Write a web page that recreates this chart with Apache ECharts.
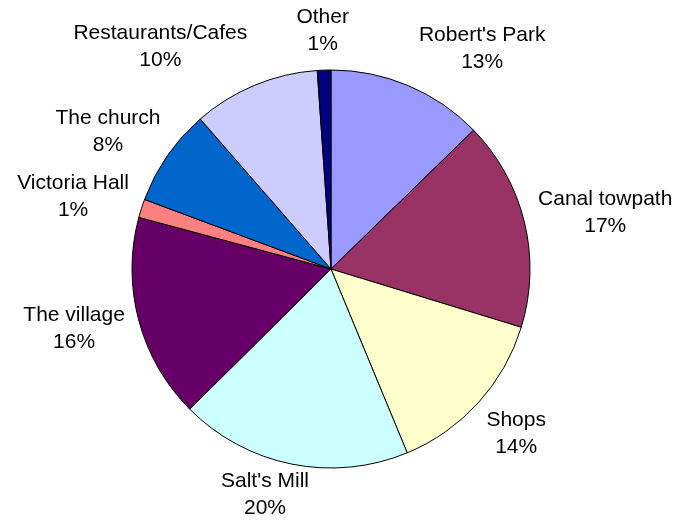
<!DOCTYPE html>
<html>
<head>
<meta charset="utf-8">
<script src="https://cdn.jsdelivr.net/npm/echarts@6/dist/echarts.min.js"></script>
<style>
html,body{margin:0;padding:0;background:#fff;}
#chart{width:674px;height:524px;}
</style>
</head>
<body>
<div id="chart"></div>
<script>
// Data
const categories = ["Robert's Park", "Canal towpath", "Shops", "Salt's Mill", "The village", "Victoria Hall", "The church", "Restaurants/Cafes", "Other"];
const shares = [12.7, 17.0, 14.0, 18.8, 16.6, 1.5, 7.9, 10.3, 1.1];
const percentLabels = ["13%", "17%", "14%", "20%", "16%", "1%", "8%", "10%", "1%"];

// Styling
const colors = ['#9999FF', '#993366', '#FFFFCC', '#CCFFFF', '#660066', '#FF8080', '#0066CC', '#CCCCFF', '#000080'];
const CX = 331, CY = 269, R = 199, LABEL_DIST = 215, LINE_H = 27;
// label nudges [dx, dy] mimicking the original's label overlap adjustments
const labelNudge = {
  "Robert's Park": [43, 3],
  "Canal towpath": [0, 1],
  "Shops": [4, 2],
  "Salt's Mill": [-15, -12],
  "The village": [0, -2],
  "Victoria Hall": [0, 1],
  "The church": [-3, 0],
  "Restaurants/Cafes": [-55, 1],
  "Other": [0, 4]
};

const total = shares.reduce((a, b) => a + b, 0);
const midAngles = [];
let acc = 0;
shares.forEach(v => {
  midAngles.push(((acc + v / 2) / total) * 2 * Math.PI);
  acc += v;
});

const chart = echarts.init(document.getElementById('chart'), null, { renderer: 'canvas' });
chart.setOption({
  backgroundColor: '#ffffff',
  animation: false,
  series: [{
    type: 'pie',
    center: [CX, CY],
    radius: [0, R],
    startAngle: 90,
    clockwise: true,
    avoidLabelOverlap: false,
    minAngle: 0,
    data: categories.map((c, i) => ({ name: c, value: shares[i], itemStyle: { color: colors[i] } })),
    itemStyle: { borderColor: '#000000', borderWidth: 1 },
    emphasis: { disabled: true },
    label: {
      show: true,
      position: 'outside',
      formatter: p => categories[p.dataIndex] + '\n' + percentLabels[p.dataIndex],
      fontFamily: "'Liberation Sans', Arial, sans-serif",
      fontSize: 21,
      lineHeight: LINE_H,
      color: '#000000',
      align: 'center'
    },
    labelLine: { show: false },
    labelLayout: function (params) {
      const i = params.dataIndex;
      const a = midAngles[i];
      const ux = Math.sin(a), uy = -Math.cos(a);
      const w = params.labelRect.width, h = 2 * LINE_H;
      const n = labelNudge[categories[i]] || [0, 0];
      const x = CX + (LABEL_DIST + w / 2) * ux + n[0];
      const y = CY + (LABEL_DIST + h / 2) * uy + n[1];
      return { x: x, y: y, align: 'center', verticalAlign: 'middle' };
    }
  }]
});
</script>
</body>
</html>
